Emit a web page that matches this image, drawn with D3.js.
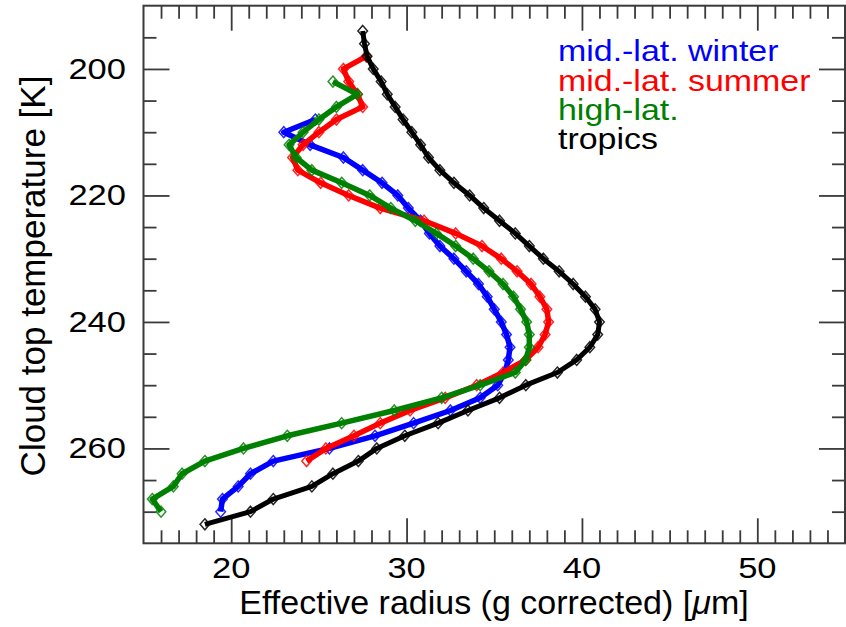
<!DOCTYPE html>
<meta charset="utf-8">
<script src="https://d3js.org/d3.v7.min.js"></script>
<style>
  body { margin: 0; background: #fff; }
  text { font-family: "Liberation Sans", Arial, Helvetica, sans-serif; }
</style>
<div id="chart"></div>
<script>
  // cloud top temperature [K] and effective radius [um], one pair of arrays per region
  var winterTemp = [208, 210, 212, 214, 216, 218, 220, 222, 224, 226, 228, 230, 232, 234, 236, 238,
    240, 242, 244, 246, 248, 250, 252, 254, 256, 258, 260, 262, 264, 266, 268, 270];
  var winterRadius = [24.8, 23.0, 24.5, 26.4, 27.5, 28.6, 29.5, 30.1, 30.8, 31.3, 31.9, 32.7, 33.4, 34.1, 34.6, 35.0,
    35.4, 35.7, 35.9, 35.8, 35.6, 35.2, 34.2, 32.5, 30.4, 28.2, 25.6, 22.4, 21.1, 20.4, 19.5, 19.4];

  var summerTemp = [198, 200, 202, 204, 206, 208, 210, 212, 214, 216, 218, 220, 222, 224, 226, 228,
    230, 232, 234, 236, 238, 240, 242, 244, 246, 248, 250, 252, 254, 256, 258, 260, 262];
  var summerRadius = [27.7, 26.4, 26.7, 27.2, 27.5, 26.0, 25.0, 24.1, 23.5, 23.8, 25.1, 26.7, 28.5, 31.0, 32.8, 34.3,
    35.4, 36.3, 37.1, 37.6, 38.0, 38.1, 37.9, 37.5, 36.8, 35.5, 34.0, 32.2, 30.2, 28.5, 27.0, 25.4, 24.3];

  var highTemp = [202, 204, 206, 208, 210, 212, 214, 216, 218, 220, 222, 224, 226, 228, 230, 232,
    234, 236, 238, 240, 242, 244, 246, 248, 250, 252, 254, 256, 258, 260, 262, 264, 266, 268, 270];
  var highRadius = [25.8, 27.2, 26.0, 25.0, 24.1, 23.3, 23.7, 24.6, 26.3, 27.9, 29.1, 30.5, 31.7, 32.8, 33.8, 34.7,
    35.5, 36.1, 36.5, 36.85, 37.0, 37.0, 36.8, 36.2, 34.2, 32.0, 29.3, 26.3, 23.2, 20.7, 18.5, 17.2, 16.7, 15.5, 16.0];

  var tropicsTemp = [194, 196, 198, 200, 202, 204, 206, 208, 210, 212, 214, 216, 218, 220, 222, 224,
    226, 228, 230, 232, 234, 236, 238, 240, 242, 244, 246, 248, 250, 252, 254, 256, 258, 260, 262, 264,
    266, 268, 270, 272];
  var tropicsRadius = [27.5, 27.6, 27.75, 28.1, 28.55, 28.9, 29.35, 29.8, 30.3, 30.8, 31.25, 31.9, 32.7, 33.6, 34.4, 35.3,
    36.2, 37.0, 37.8, 38.7, 39.5, 40.2, 40.75, 41.0, 40.9, 40.45, 39.7, 38.6, 36.8, 35.3, 33.5, 31.8, 29.9, 28.3, 27.25, 25.8,
    24.6, 22.4, 21.1, 18.5];

  var seriesNames = ["mid.-lat. winter", "mid.-lat. summer", "high-lat.", "tropics"];
  var seriesColors = ["#0000ff", "#ff0000", "#008000", "#000000"];

  var xMajor = [20, 30, 40, 50];
  var yMajor = [200, 220, 240, 260];

  var series = [
    { temp: winterTemp, radius: winterRadius },
    { temp: summerTemp, radius: summerRadius },
    { temp: highTemp, radius: highRadius },
    { temp: tropicsTemp, radius: tropicsRadius }
  ];

  var W = 846, H = 627;
  var pLeft = 143.5, pRight = 845, pTop = 5.7, pBottom = 543.3;

  var svg = d3.select("#chart").append("svg").attr("width", W).attr("height", H);

  var x = d3.scaleLinear().domain([15, 55]).range([pLeft, pRight]);
  var y = d3.scaleLinear().domain([190, 275]).range([pTop, pBottom]);

  var xMinor = d3.range(16, 55, 1).filter(function(v) { return xMajor.indexOf(v) < 0; });
  var yMinor = d3.range(195, 275, 5).filter(function(v) { return yMajor.indexOf(v) < 0; });

  var axisColor = "#3a3a3a";

  function styleAxis(g) {
    g.select(".domain").remove();
    g.selectAll("line").attr("stroke", axisColor).attr("stroke-width", 1.8);
    g.selectAll("text").remove();
  }

  // ticks point inward on all four sides
  svg.append("g").attr("transform", "translate(0," + pBottom + ")")
    .call(d3.axisBottom(x).tickValues(xMinor).tickSize(-13)).call(styleAxis);
  svg.append("g").attr("transform", "translate(0," + pBottom + ")")
    .call(d3.axisBottom(x).tickValues(xMajor).tickSize(-25)).call(styleAxis);
  svg.append("g").attr("transform", "translate(0," + pTop + ")")
    .call(d3.axisTop(x).tickValues(xMinor).tickSize(-13)).call(styleAxis);
  svg.append("g").attr("transform", "translate(0," + pTop + ")")
    .call(d3.axisTop(x).tickValues(xMajor).tickSize(-25)).call(styleAxis);
  svg.append("g").attr("transform", "translate(" + pLeft + ",0)")
    .call(d3.axisLeft(y).tickValues(yMinor).tickSize(-13)).call(styleAxis);
  svg.append("g").attr("transform", "translate(" + pLeft + ",0)")
    .call(d3.axisLeft(y).tickValues(yMajor).tickSize(-26)).call(styleAxis);
  svg.append("g").attr("transform", "translate(" + pRight + ",0)")
    .call(d3.axisRight(y).tickValues(yMinor).tickSize(-13)).call(styleAxis);
  svg.append("g").attr("transform", "translate(" + pRight + ",0)")
    .call(d3.axisRight(y).tickValues(yMajor).tickSize(-26)).call(styleAxis);

  // frame
  svg.append("rect").attr("x", pLeft).attr("y", pTop)
    .attr("width", pRight - pLeft).attr("height", pBottom - pTop)
    .attr("fill", "none").attr("stroke", axisColor).attr("stroke-width", 2);

  // tick labels (the original's label font is drawn a bit wide)
  var stretch = 1.17;
  svg.selectAll(".xlab").data(xMajor).enter().append("text")
    .attr("transform", function(d) { return "translate(" + x(d) + ",578) scale(" + stretch + ",1)"; })
    .attr("text-anchor", "middle").style("font-size", "29.5px").text(function(d) { return d; });
  svg.selectAll(".ylab").data(yMajor).enter().append("text")
    .attr("transform", function(d) { return "translate(126," + (y(d) + 10) + ") scale(" + stretch + ",1)"; })
    .attr("text-anchor", "end").style("font-size", "29.5px").text(function(d) { return d; });

  // axis titles
  var xt = svg.append("text").attr("x", 494).attr("y", 614).attr("text-anchor", "middle")
    .style("font-size", "34px");
  xt.append("tspan").text("Effective radius (g corrected) [");
  xt.append("tspan").style("font-style", "italic").text("\u03bc");
  xt.append("tspan").text("m]");

  svg.append("text").attr("transform", "translate(45,276) rotate(-90)")
    .attr("text-anchor", "middle").style("font-size", "35px").text("Cloud top temperature [K]");

  // curves
  var line = d3.line().x(function(d) { return x(d[1]); }).y(function(d) { return y(d[0]); });
  var diamond = "M0,-5.5L4.8,0L0,5.5L-4.8,0Z";

  series.forEach(function(s, i) {
    var pts = s.temp.map(function(t, j) { return [t, s.radius[j]]; });
    var g = svg.append("g");
    g.append("path").datum(pts).attr("d", line)
      .attr("fill", "none").attr("stroke", seriesColors[i])
      .attr("stroke-width", i == 3 ? 5 : 5.5).attr("stroke-linejoin", "round");
    g.selectAll("path.m").data(pts).enter().append("path").attr("class", "m")
      .attr("d", diamond)
      .attr("transform", function(d) { return "translate(" + x(d[1]) + "," + y(d[0]) + ")"; })
      .attr("fill", "none").attr("stroke", seriesColors[i]).attr("stroke-width", 1.5)
      .attr("stroke-opacity", 0.85);
  });

  // legend
  var legendY = [61, 90.5, 120, 149];
  seriesNames.forEach(function(name, i) {
    svg.append("text")
      .attr("transform", "translate(558," + legendY[i] + ") scale(" + stretch + ",1)")
      .attr("fill", seriesColors[i]).style("font-size", "29px").text(name);
  });
</script>
